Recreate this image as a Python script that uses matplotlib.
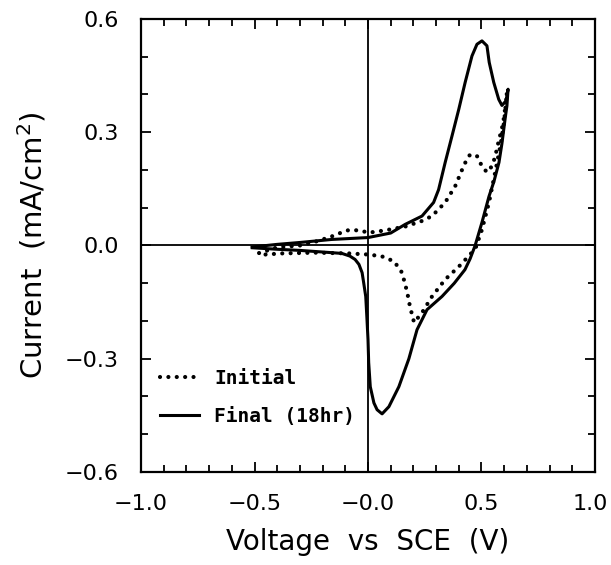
import matplotlib.pyplot as plt
import matplotlib.transforms as mtransforms

# cyclic voltammogram (V vs SCE, mA/cm2)
initial_v = [-0.48, -0.40, -0.30, -0.22, -0.16, -0.11, -0.084, -0.04, 0.004, 0.04, 0.075,
             0.163, 0.238, 0.282, 0.34, 0.384, 0.414, 0.435, 0.45, 0.48, 0.502,
             0.524, 0.546, 0.56, 0.577, 0.59, 0.60, 0.612,
             0.60, 0.585, 0.56, 0.533, 0.502, 0.475, 0.45, 0.40, 0.34, 0.282, 0.238, 0.203,
             0.185, 0.172, 0.15, 0.115, 0.062, 0.004, -0.084, -0.233, -0.38, -0.48]
initial_i = [-0.020, -0.005, 0.0, 0.012, 0.024, 0.036, 0.041, 0.040, 0.034, 0.037, 0.040,
             0.050, 0.065, 0.078, 0.114, 0.157, 0.200, 0.228, 0.241, 0.237, 0.210,
             0.194, 0.210, 0.235, 0.280, 0.310, 0.342, 0.405,
             0.330, 0.270, 0.193, 0.114, 0.042, -0.005, -0.024, -0.056, -0.090, -0.135, -0.178, -0.204,
             -0.162, -0.122, -0.072, -0.042, -0.029, -0.024, -0.021, -0.019, -0.021, -0.025]

final_v = [-0.51, -0.40, -0.30, -0.16, 0.0, 0.10, 0.164, 0.238, 0.289, 0.311, 0.34, 0.37,
           0.40, 0.428, 0.458, 0.48, 0.502, 0.524, 0.534, 0.554, 0.576, 0.59, 0.608, 0.617,
           0.612, 0.605, 0.59, 0.577, 0.555, 0.533, 0.502, 0.472, 0.45, 0.427, 0.38, 0.326,
           0.26, 0.216, 0.18, 0.136, 0.092, 0.062, 0.04, 0.026, 0.01, 0.003, 0.0, -0.005,
           -0.01, -0.02, -0.026, -0.04, -0.057, -0.08, -0.115, -0.16, -0.30, -0.40, -0.51]
final_i = [-0.004, 0.003, 0.008, 0.016, 0.021, 0.033, 0.056, 0.078, 0.114, 0.148, 0.220, 0.290,
           0.361, 0.432, 0.502, 0.533, 0.542, 0.529, 0.485, 0.432, 0.387, 0.371, 0.383, 0.414,
           0.370, 0.340, 0.270, 0.220, 0.170, 0.130, 0.061, 0.0, -0.035, -0.064, -0.100, -0.135,
           -0.170, -0.223, -0.300, -0.374, -0.427, -0.446, -0.435, -0.417, -0.374, -0.310, -0.249, -0.190,
           -0.135, -0.095, -0.072, -0.050, -0.037, -0.028, -0.021, -0.019, -0.013, -0.010, -0.006]

x_ticks = [-1.0, -0.5, 0.0, 0.5, 1.0]
x_labels = ['\u22121.0', '\u22120.5', '\u22120.0', '0.5', '1.0']
y_ticks = [-0.6, -0.3, 0.0, 0.3, 0.6]
y_labels = ['\u22120.6', '\u22120.3', '0.0', '0.3', '0.6']

fig = plt.figure(figsize=(6.11, 5.65), dpi=100)
ax = fig.add_axes([0.2308, 0.1646, 0.7430, 0.8018])

ax.axhline(0, color='black', lw=1.3, zorder=1)
ax.axvline(0, color='black', lw=1.3, zorder=1)

ax.plot(initial_v, initial_i, color='black', lw=3.0, linestyle=(0, (0.01, 2.0)),
        dash_capstyle='round', label='Initial')
ax.plot(final_v, final_i, color='black', lw=2.2, solid_joinstyle='round', label='Final (18hr)')

ax.set_xlim(-1.0, 1.0)
ax.set_ylim(-0.6, 0.6)
ax.set_xticks(x_ticks)
ax.set_xticklabels(x_labels)
ax.set_yticks(y_ticks)
ax.set_yticklabels(y_labels)
ax.set_xticks([v / 10 for v in range(-10, 11)], minor=True)
ax.set_yticks([v / 10 for v in range(-6, 7)], minor=True)
ax.tick_params(which='both', direction='in', top=True, right=True, width=1.3, labelsize=16, pad=16)
ax.tick_params(which='major', length=7)
ax.tick_params(which='minor', length=5)
for s in ax.spines.values():
    s.set_linewidth(1.6)

# last x label sits at the figure edge, nudge it left a little
last = ax.get_xticklabels()[-1]
last.set_transform(last.get_transform() + mtransforms.ScaledTranslation(-5 / 100, 0, fig.dpi_scale_trans))

ax.set_xlabel('Voltage  vs  SCE  (V)', fontsize=20, labelpad=10)
ax.set_ylabel('Current  (mA/cm$^2$)', fontsize=21, labelpad=12)

ax.legend(loc='lower left', bbox_to_anchor=(0.02, 0.08), frameon=False,
          prop={'family': 'DejaVu Sans Mono', 'weight': 'bold', 'size': 14},
          handlelength=2.0, handletextpad=0.8, labelspacing=1.0, borderpad=0)

fig.savefig('out.png', dpi=100)
